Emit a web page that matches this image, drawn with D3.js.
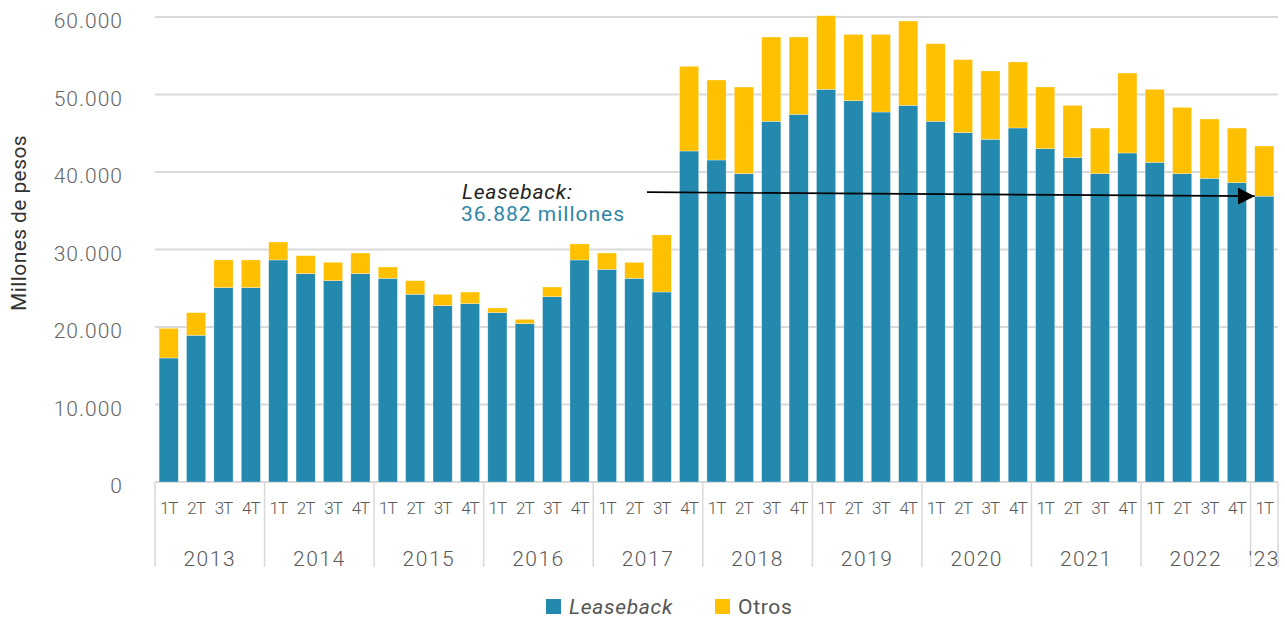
<!DOCTYPE html>
<html>
<head>
<meta charset="utf-8">
<script src="https://cdn.jsdelivr.net/npm/d3@7"></script>
<style>
  body { margin: 0; background: #fff; }
  text { font-family: Roboto, "DejaVu Sans", sans-serif; }
</style>
</head>
<body>
<div id="chart"></div>
<script>
// quarterly values, millones de pesos (2013 1T .. 2023 1T)
const years = ["2013", "2014", "2015", "2016", "2017", "2018", "2019", "2020", "2021", "2022", "'23"];
const quarterLabels = ["1T", "2T", "3T", "4T"];
const leaseback = [16000, 18930, 25080, 25080, 28650, 26880, 25980, 26880, 26280, 24220,
    22750, 23010, 21850, 20430, 23910, 28650, 27440, 26280, 24520, 42710,
    41550, 39780, 46540, 47440, 50670, 49200, 47740, 48600, 46540, 45080,
    44220, 45680, 43010, 41850, 39780, 42450, 41250, 39780, 39180, 38620, 36882];
const otros = [3830, 2920, 3570, 3570, 2320, 2320, 2370, 2670, 1460, 1760,
    1470, 1500, 600, 560, 1250, 2070, 2110, 2060, 7360, 10930,
    10320, 11180, 10880, 9980, 9500, 8560, 10020, 10880, 10020, 9420,
    8820, 8520, 7960, 6750, 5890, 10320, 9420, 8560, 7660, 7050, 6470];
const yTicks = [0, 10000, 20000, 30000, 40000, 50000, 60000];

const W = 1285, H = 619;
const plotLeft = 155, plotRight = 1278, plotTop = 17, plotBottom = 482;

const svg = d3.select("#chart").append("svg")
    .attr("width", W)
    .attr("height", H);

// rows: one per quarter
const rows = leaseback.map((v, i) => ({
    idx: i,
    year: Math.floor(i / 4),
    q: quarterLabels[i % 4],
    Leaseback: v,
    Otros: otros[i]
}));

const x = d3.scaleBand()
    .domain(rows.map(d => d.idx))
    .range([plotLeft, plotRight])
    .paddingInner(0.3)
    .paddingOuter(0.15);

const y = d3.scaleLinear()
    .domain([0, 60000])
    .range([plotBottom, plotTop]);

const fmt = d3.formatLocale({decimal: ",", thousands: ".", grouping: [3], currency: ["$", ""]}).format(",d");

// gridlines
svg.append("g")
    .selectAll("line")
    .data(yTicks)
    .join("line")
    .attr("x1", plotLeft)
    .attr("x2", plotRight)
    .attr("y1", d => y(d))
    .attr("y2", d => y(d))
    .attr("stroke", "#d9d9d9")
    .attr("stroke-width", 2);

// y tick labels
svg.append("g")
    .selectAll("text")
    .data(yTicks)
    .join("text")
    .attr("x", 123)
    .attr("y", d => y(d) + 11)
    .attr("text-anchor", "end")
    .attr("font-size", 21)
    .attr("font-weight", 300)
    .attr("letter-spacing", 1)
    .attr("fill", "#666")
    .text(d => fmt(d));

// y title
svg.append("text")
    .attr("transform", "translate(26,223) rotate(-90)")
    .attr("text-anchor", "middle")
    .attr("font-size", 21)
    .attr("letter-spacing", 0.4)
    .attr("fill", "#333")
    .text("Millones de pesos");

// stacked bars
const stack = d3.stack().keys(["Leaseback", "Otros"]);
const series = stack(rows);
const color = d3.scaleOrdinal()
    .domain(["Leaseback", "Otros"])
    .range(["#2389ae", "#ffc000"]);

svg.append("g")
    .selectAll("g")
    .data(series)
    .join("g")
    .attr("fill", d => color(d.key))
    .selectAll("rect")
    .data(d => d)
    .join("rect")
    .attr("x", (d, i) => x(i))
    .attr("width", x.bandwidth())
    .attr("y", d => y(d[1]))
    .attr("height", d => y(d[0]) - y(d[1]))
    .attr("stroke", "#fff")
    .attr("stroke-opacity", 0.5)
    .attr("stroke-width", 0.6);

// x axis: quarter labels, year labels, separators
const step = x.step();
const edge = i => x(i) - step * x.paddingInner() / 2;

svg.append("g")
    .selectAll("text")
    .data(rows)
    .join("text")
    .attr("x", d => x(d.idx) + x.bandwidth() / 2)
    .attr("y", 514)
    .attr("text-anchor", "middle")
    .attr("font-size", 17)
    .attr("font-weight", 300)
    .attr("letter-spacing", -1)
    .attr("fill", "#595959")
    .text(d => d.q);

const yearStarts = years.map((yr, k) => k * 4);
const seps = yearStarts.map(i => edge(i)).concat([plotRight]);

svg.append("g")
    .selectAll("line")
    .data(seps)
    .join("line")
    .attr("x1", d => d)
    .attr("x2", d => d)
    .attr("y1", plotBottom)
    .attr("y2", 567)
    .attr("stroke", "#d9d9d9")
    .attr("stroke-width", 1.5);

svg.append("g")
    .selectAll("text")
    .data(years)
    .join("text")
    .attr("x", (d, k) => (seps[k] + seps[k + 1]) / 2)
    .attr("y", 566)
    .attr("text-anchor", "middle")
    .attr("font-size", 21)
    .attr("font-weight", 300)
    .attr("letter-spacing", 1.5)
    .attr("fill", "#595959")
    .text(d => d);

// annotation with arrow to last quarter
const last = rows.length - 1;
svg.append("defs").append("marker")
    .attr("id", "arrow")
    .attr("viewBox", "0 0 10 10")
    .attr("refX", 10)
    .attr("refY", 5)
    .attr("markerWidth", 17)
    .attr("markerHeight", 18)
    .attr("markerUnits", "userSpaceOnUse")
    .attr("orient", "auto")
    .append("path")
    .attr("d", "M0,0 L10,5 L0,10 Z")
    .attr("fill", "#000");

svg.append("line")
    .attr("x1", 647)
    .attr("y1", y(leaseback[last]) - 4)
    .attr("x2", x(last))
    .attr("y2", y(leaseback[last]))
    .attr("stroke", "#000")
    .attr("stroke-width", 1.6)
    .attr("marker-end", "url(#arrow)");

svg.append("text")
    .attr("x", 462)
    .attr("y", 199)
    .attr("font-size", 21)
    .attr("font-style", "italic")
    .attr("letter-spacing", 0.8)
    .attr("fill", "#222")
    .text("Leaseback:");

svg.append("text")
    .attr("x", 461)
    .attr("y", 221)
    .attr("font-size", 21)
    .attr("letter-spacing", 1)
    .attr("fill", "#2f86a6")
    .text(fmt(leaseback[last]) + " millones");

// legend
const legend = [{key: "Leaseback", x: 546, italic: true}, {key: "Otros", x: 715, italic: false}];
const lg = svg.append("g")
    .selectAll("g")
    .data(legend)
    .join("g")
    .attr("transform", d => "translate(" + d.x + ",599)");
lg.append("rect")
    .attr("width", 15)
    .attr("height", 15)
    .attr("fill", d => color(d.key));
lg.append("text")
    .attr("x", 23)
    .attr("y", 15)
    .attr("font-size", 21)
    .attr("font-style", d => d.italic ? "italic" : "normal")
    .attr("letter-spacing", 0.7)
    .attr("fill", "#555")
    .text(d => d.key);
</script>
</body>
</html>
